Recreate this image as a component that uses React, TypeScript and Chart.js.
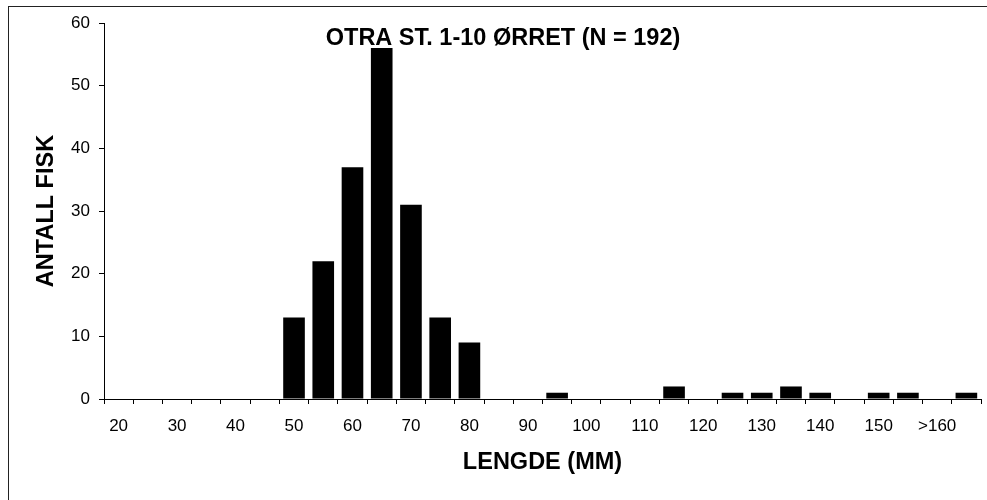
import React, { useEffect, useRef } from "react";
import { Chart, registerables } from "chart.js";

Chart.register(...registerables);

const chartTitle = "OTRA ST. 1-10 ØRRET (N = 192)";
const xAxisTitle = "LENGDE (MM)";
const yAxisTitle = "ANTALL FISK";

const categories = [
  "20", "25", "30", "35", "40", "45", "50", "55", "60", "65",
  "70", "75", "80", "85", "90", "95", "100", "105", "110", "115",
  "120", "125", "130", "135", "140", "145", "150", "155", ">160", ">165",
];

const counts = [
  0, 0, 0, 0, 0, 0, 13, 22, 37, 56,
  31, 13, 9, 0, 0, 1, 0, 0, 0, 2,
  0, 1, 1, 2, 1, 0, 1, 1, 0, 1,
];

const yTicks = { min: 0, max: 60, step: 10 };

const FONT = '"Liberation Sans", Arial, sans-serif';

const textPlugin = {
  id: "textPlugin",
  afterDraw(chart: any) {
    const { ctx, chartArea: a } = chart;
    const w = a.right - a.left;
    ctx.save();
    ctx.fillStyle = "#000";
    ctx.textAlign = "center";
    ctx.textBaseline = "middle";
    ctx.font = `bold 23.5px ${FONT}`;
    ctx.fillText(chartTitle, a.left + 0.455 * w, a.top + 15.5);
    ctx.fillText(xAxisTitle, (a.left + a.right) / 2, a.bottom + 64);
    ctx.translate(47, (a.top + a.bottom) / 2);
    ctx.rotate(-Math.PI / 2);
    ctx.fillText(yAxisTitle, 0, 0);
    ctx.restore();
  },
};

export default function App() {
  const ref = useRef<HTMLCanvasElement | null>(null);

  useEffect(() => {
    if (!ref.current) return;
    Chart.defaults.font.family = FONT;
    const chart = new Chart(ref.current, {
      type: "bar",
      data: {
        labels: categories,
        datasets: [
          {
            data: counts,
            backgroundColor: "#000",
            borderWidth: 0,
            barPercentage: 0.74,
            categoryPercentage: 1,
          },
        ],
      },
      options: {
        animation: false,
        responsive: true,
        maintainAspectRatio: false,
        layout: { padding: { left: 0, top: 23, right: 6, bottom: 0 } },
        plugins: {
          legend: { display: false },
          tooltip: { enabled: false },
          title: { display: false },
        },
        scales: {
          x: {
            offset: true,
            afterFit: (s: any) => {
              s.height = 101;
            },
            grid: {
              display: true,
              offset: true,
              drawOnChartArea: false,
              drawTicks: true,
              tickLength: 5,
              color: "#000",
            },
            border: { display: true, color: "#000", width: 1 },
            ticks: {
              autoSkip: false,
              maxRotation: 0,
              minRotation: 0,
              padding: 12,
              color: "#000",
              font: { size: 17, family: FONT },
              callback: (_v: any, i: number) => (i % 2 === 0 ? categories[i] : ""),
            },
          },
          y: {
            min: yTicks.min,
            max: yTicks.max,
            afterFit: (s: any) => {
              s.width = 104;
            },
            grid: {
              display: true,
              drawOnChartArea: false,
              drawTicks: true,
              tickLength: 5,
              color: "#000",
            },
            border: { display: true, color: "#000", width: 1 },
            ticks: {
              stepSize: yTicks.step,
              padding: 9,
              color: "#000",
              font: { size: 17, family: FONT },
            },
          },
        },
      },
      plugins: [textPlugin],
    });
    return () => chart.destroy();
  }, []);

  return (
    <div
      style={{
        position: "fixed",
        left: 0,
        top: 0,
        width: 987,
        height: 500,
        overflow: "hidden",
        background: "#fff",
      }}
    >
      <div
        style={{
          position: "absolute",
          left: 8,
          top: 6,
          width: 1000,
          height: 520,
          borderTop: "1px solid #222",
          borderLeft: "1px solid #222",
        }}
      />
      <div style={{ position: "absolute", left: 0, top: 0, width: 987, height: 500 }}>
        <canvas ref={ref} />
      </div>
    </div>
  );
}
